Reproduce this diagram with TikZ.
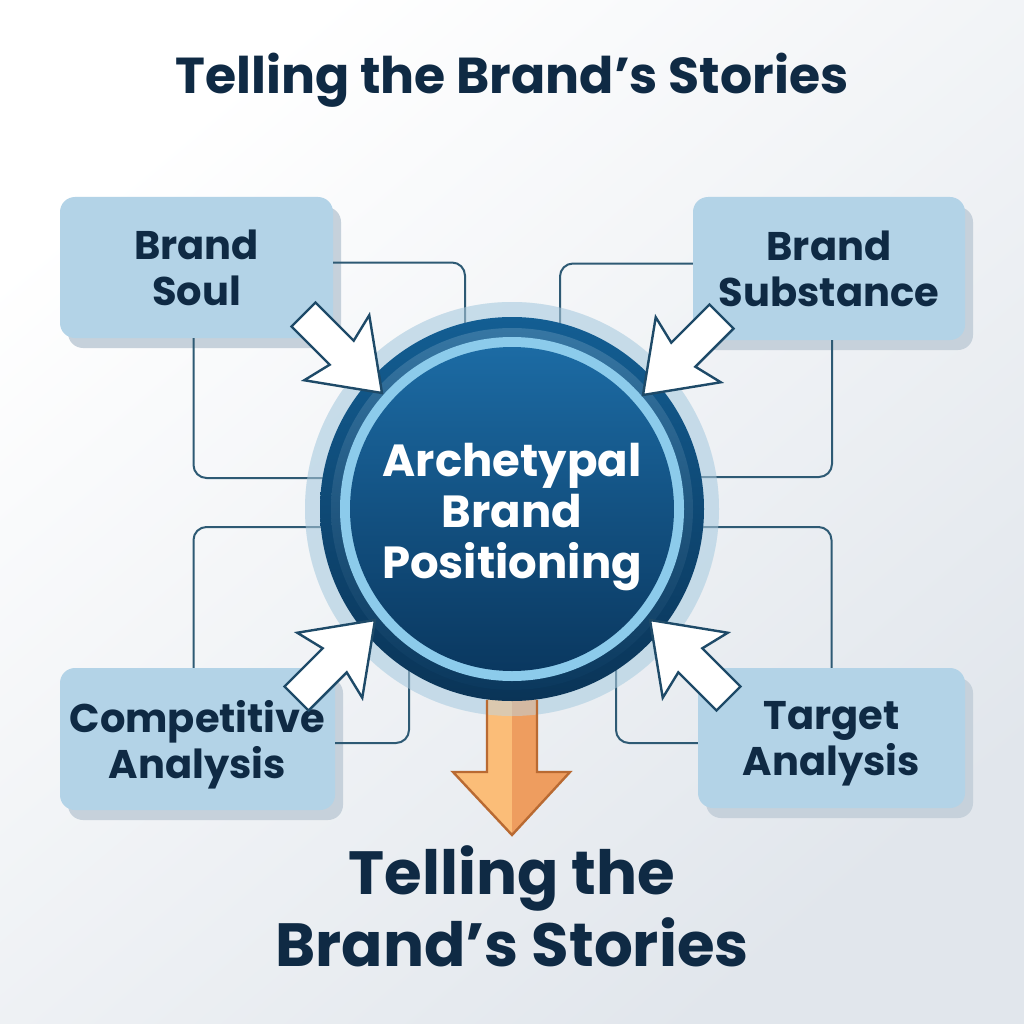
\documentclass[tikz,border=0pt]{standalone}
\usepackage{fontspec}
\setmainfont{Poppins}
\usetikzlibrary{shadows,calc}
\definecolor{ink}{HTML}{0F2A44}
\definecolor{bgB}{HTML}{E1E6EC}
\definecolor{boxfill}{HTML}{B3D3E7}
\definecolor{boxshadow}{HTML}{C6D1DB}
\definecolor{conn}{HTML}{2E5A74}
\definecolor{halo}{HTML}{BCD6E6}
\definecolor{ringdarkA}{HTML}{135E93}
\definecolor{ringdarkB}{HTML}{0A3457}
\definecolor{ringlight}{HTML}{8CCBEB}
\definecolor{diskA}{HTML}{1C6BA4}
\definecolor{diskB}{HTML}{0A3860}
\definecolor{arrowline}{HTML}{1E4A68}
\definecolor{orangeA}{HTML}{FBBD78}
\definecolor{orangeB}{HTML}{EE9D5F}
\definecolor{orangeline}{HTML}{B96A32}
\tikzset{
  boxnode/.style={rounded corners=15pt, fill=boxfill, text=ink,
    font=\bfseries\fontsize{40}{46}\selectfont, align=center,
    drop shadow={shadow xshift=8pt, shadow yshift=-10pt, fill=boxshadow, opacity=1}},
  connline/.style={draw=conn, line width=2pt, rounded corners=13pt},
  inarrow/.pic={\draw[fill=white, draw=arrowline, line width=2.4pt, line join=miter]
     (0,0) -- (-64,46) -- (-57,17) -- (-111,17) -- (-111,-17) -- (-57,-17) -- (-64,-46) -- cycle;},
}
\begin{document}
\begin{tikzpicture}[x=1pt,y=-1pt]
\useasboundingbox (0,0) rectangle (1024,1024);
\shade[top color=white, bottom color=bgB, shading angle=40] (0,0) rectangle (1024,1024);

% title
\node[text=ink, font=\bfseries\fontsize{50.5}{60}\selectfont] (title) at (512,80) {Telling the Brand’s Stories};

% boxes
\node[boxnode, minimum width=273pt, minimum height=141pt] (soul) at (196.5,267.5) {Brand\\\smash{Soul}};
\node[boxnode, minimum width=272pt, minimum height=143pt] (subst) at (829,268.5) {Brand\\\smash{Substance}};
\node[boxnode, minimum width=275pt, minimum height=142pt] (comp) at (197.5,739) {Competitive\\\smash{Analysis}};
\node[boxnode, minimum width=267pt, minimum height=140pt] (target) at (831.5,738) {Target\\\smash{Analysis}};

% centre node (placeholder for anchors)
\node[circle, minimum size=384pt, inner sep=0pt] (C) at (512,509) {};

% halo
\fill[halo, opacity=0.6] (C.center) circle[radius=207pt];

% connectors
\draw[connline] ([yshift=5pt]soul.east) -| ([xshift=-47pt]C.center);
\draw[connline] ([xshift=-3pt]soul.south) |- ([yshift=31pt]C.center);
\draw[connline] ([yshift=5pt]subst.west) -| ([xshift=48pt]C.center);
\draw[connline] ([xshift=3pt]subst.south) |- ([yshift=32pt]C.center);
\draw[connline] ([xshift=-4pt]comp.north) |- ([yshift=-18pt]C.center);
\draw[connline] ([yshift=-4pt]comp.east) -| ([xshift=-103pt]C.center);
\draw[connline] ([xshift=0pt]target.north) |- ([yshift=-18pt]C.center);
\draw[connline] ([yshift=-5pt]target.west) -| ([xshift=104pt]C.center);

% orange output arrow
\coordinate (otip) at ($(C.center)+(0,326)$);
\fill[orangeA] (487,690) -- (512,690) -- (otip) -- (453,772) -- (487,772) -- cycle;
\fill[orangeB] (512,690) -- (537,690) -- (537,772) -- (570,772) -- (otip) -- cycle;
\fill[halo, opacity=0.5] (C.center) circle[radius=207pt];
\draw[orangeline, line width=2.4pt, line join=miter] (487,700) -- (487,772) -- (453,772) -- (otip) -- (570,772) -- (537,772) -- (537,700);

% circle rings
\shade[top color=ringdarkA, bottom color=ringdarkB] (C.center) circle[radius=192pt];
\shade[top color=ringdarkA!85!white, bottom color=ringdarkB!90!ringdarkA] (C.center) circle[radius=181pt];
\fill[ringlight] (C.center) circle[radius=172pt];
\shade[top color=diskA, bottom color=diskB] (C.center) circle[radius=162pt];
\node[text=white, align=center, font=\bfseries\fontsize{45}{51}\selectfont] (core) at ($(C.center)+(0,2)$) {Archetypal\\Brand\\\smash{Positioning}};

% inward arrows
\pic[rotate=-45] (aSoul) at (382,393) {inarrow};
\pic[rotate=-135] (aSubst) at (643,395) {inarrow};
\pic[rotate=45] (aComp) at (375,620) {inarrow};
\pic[rotate=135] (aTarget) at (650,620) {inarrow};

% bottom text
\node[text=ink, align=center, font=\bfseries\fontsize{61}{72}\selectfont] (story) at (512,906) {Telling the\\\smash{Brand’s Stories}};
\end{tikzpicture}
\end{document}
